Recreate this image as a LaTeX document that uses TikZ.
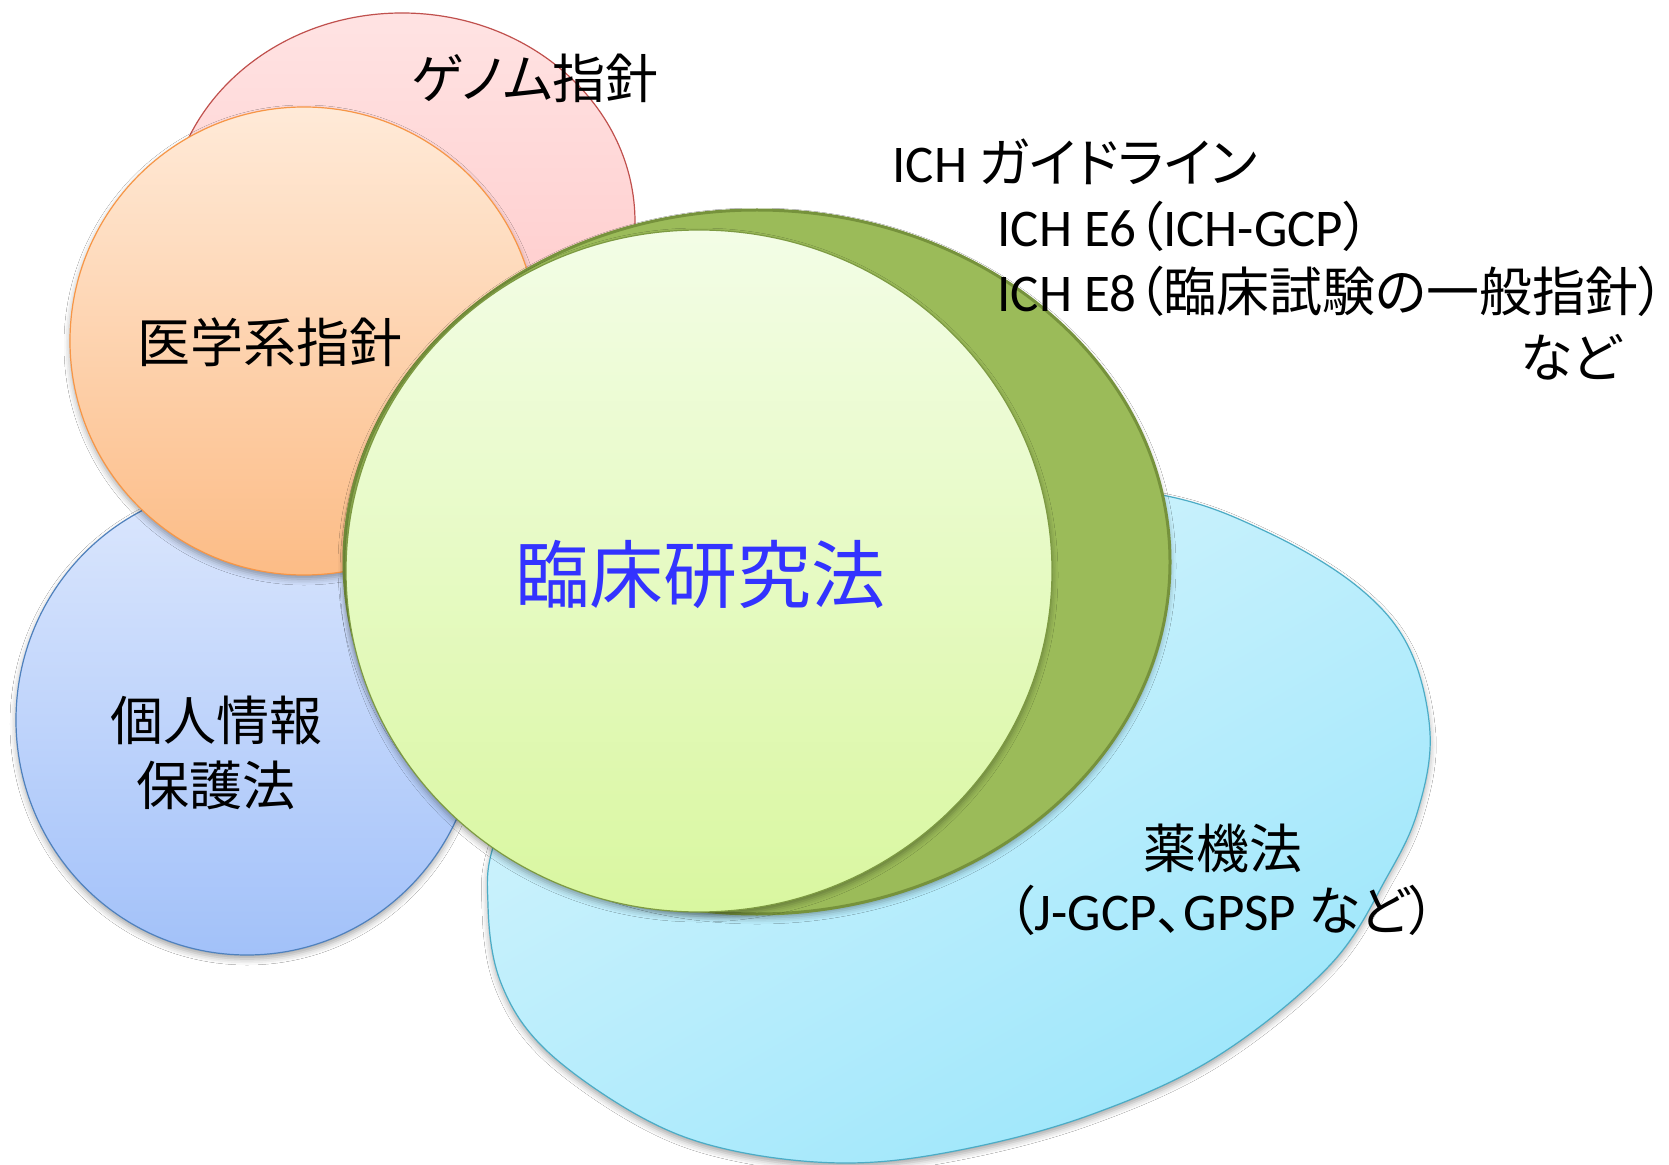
\documentclass[tikz,border=0pt]{standalone}
\usepackage{fontspec}
\newfontfamily\jp[RawFeature={+palt}]{Noto Sans CJK JP}
\newfontfamily\lat{Carlito}
\usetikzlibrary{shadows.blur}
\definecolor{pinkT}{HTML}{FFE3E3}
\definecolor{pinkB}{HTML}{FFC4C4}
\definecolor{pinkD}{HTML}{C0504D}
\definecolor{oraT}{HTML}{FFEAD8}
\definecolor{oraB}{HTML}{FCBC86}
\definecolor{oraD}{HTML}{F79646}
\definecolor{bluT}{HTML}{DCE7FD}
\definecolor{bluB}{HTML}{A2C1F9}
\definecolor{bluD}{HTML}{4F81BD}
\definecolor{cyaT}{HTML}{D8F5FD}
\definecolor{cyaB}{HTML}{9CE6FB}
\definecolor{cyaD}{HTML}{4BACC6}
\definecolor{grnT}{HTML}{F3FDE6}
\definecolor{grnB}{HTML}{D9F7A0}
\definecolor{grnRim}{HTML}{9BBB59}
\definecolor{grnD}{HTML}{76923C}
\definecolor{lawblue}{HTML}{3333FF}
\tikzset{
  lbl/.style={font=\jp\fontsize{26.5}{32.5}\selectfont, text=black, inner sep=0pt},
  softshadow/.style={blur shadow={shadow xshift=0pt, shadow yshift=-2pt, shadow blur radius=3pt, shadow opacity=35}},
  thinborder/.style={line width=0.6pt},
}
\begin{document}
\begin{tikzpicture}[x=0.5pt,y=-0.5pt]
\fill[white] (0,0) rectangle (1669,1165);
\useasboundingbox (0,0) rectangle (1669,1165);
% pink (genome)
\shade[top color=pinkT, bottom color=pinkB, draw=pinkD, thinborder]
  (402,222) ellipse [x radius=116.5pt, y radius=104.5pt];
% blue (privacy)
\shade[softshadow, top color=bluT, bottom color=bluB, draw=bluD, thinborder]
  (247,720) ellipse [x radius=115.5pt, y radius=117.5pt];
% orange (medical)
\shade[softshadow, top color=oraT, bottom color=oraB, draw=oraD, thinborder]
  (304,341) ellipse [x radius=117pt, y radius=117pt];
% cyan blob (PMD act)
\shade[softshadow, top color=cyaT, bottom color=cyaB, shading angle=30, draw=cyaD, thinborder]
  plot[smooth cycle, tension=0.6] coordinates {
    (1162,495) (1267,532) (1358,587) (1409,648) (1430,733) (1418,810) (1388,875)
    (1330,965) (1216,1057) (1090,1115) (960,1150) (846,1163) (730,1150) (641,1117)
    (546,1050) (501,983) (488,905) (497,835) (560,700) (800,520) (1000,480)};
% green disc: rim and face
\fill[softshadow, grnRim, draw=grnD, line width=1.5pt]
  (757,562) ellipse [x radius=206.5pt, y radius=176pt];
\shade[softshadow, top color=grnT, bottom color=grnB, draw=grnD!80!grnRim, thinborder]
  (699,571) ellipse [x radius=176.5pt, y radius=170.5pt];
% labels
\node[lbl] (genome) at (535,78) {ゲノム指針};
\node[lbl] (igaku) at (270,342) {医学系指針};
\node[lbl, align=center] (kojin) at (216,753) {個人情報\\保護法};
\node[font=\jp\fontsize{37}{44}\selectfont, text=lawblue, inner sep=0pt] (rinsho) at (700,574) {臨床研究法};
\node[lbl] (yakki) at (1223,848) {薬機法};
\node[lbl, anchor=base] (jgcp) at (1222,930) {（{\lat J-GCP}、{\lat GPSP} など）};
\node[lbl, anchor=base west] (ich0) at (892,183) {{\lat ICH }ガイドライン};
\node[lbl, anchor=base west] (ich1) at (997,247) {{\lat ICH E6}（{\lat ICH-GCP}）};
\node[lbl, anchor=base west] (ich2) at (997,312) {{\lat ICH E8}（臨床試験の一般指針）};
\node[lbl, anchor=base] (ich3) at (1571,378) {など};
\end{tikzpicture}
\end{document}
